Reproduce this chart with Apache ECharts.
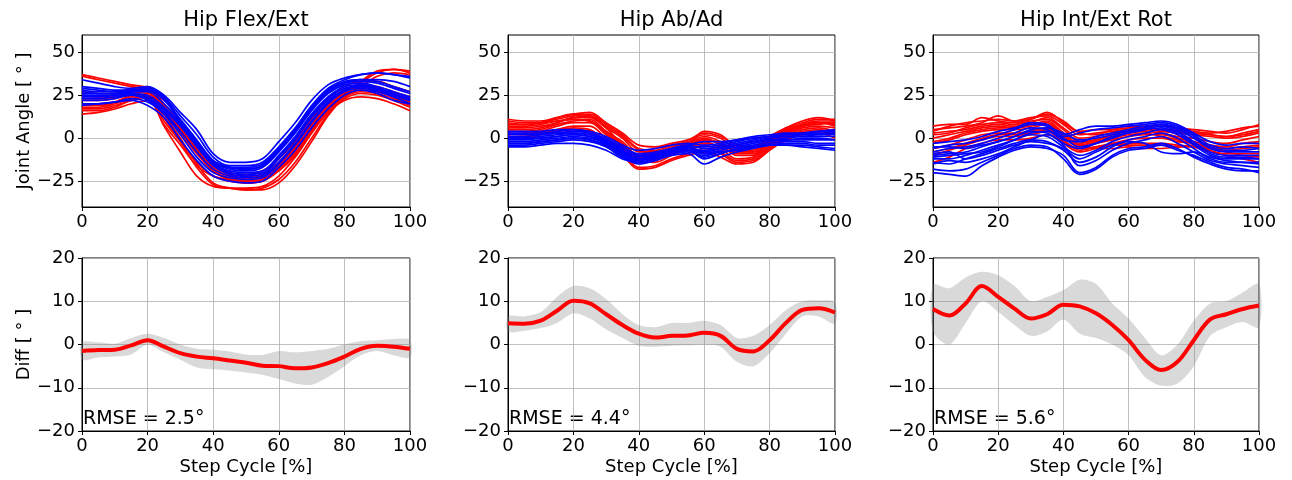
<!DOCTYPE html>
<html>
<head>
<meta charset="utf-8">
<script src="https://cdn.jsdelivr.net/npm/echarts@6/dist/echarts.min.js"></script>
<style>
  html, body { margin: 0; padding: 0; background: #fff; }
  #chart { width: 1292px; height: 480px; }
</style>
</head>
<body>
<div id="chart"></div>
<script>
// step cycle samples (%)
var xSteps = [0, 5, 10, 15, 20, 25, 30, 35, 40, 45, 50, 55, 60, 65, 70, 75, 80, 85, 90, 95, 100];

// Hip Flex/Ext trials
var flexRed = [
    [37, 35, 33, 31, 29, 14, 0, -15, -26, -29, -30, -30, -26, -16, -2, 13, 24, 32, 38, 40, 38],
    [36, 34, 32, 30, 28, 12, -2, -17, -27, -29, -30, -29, -24, -14, 0, 14, 25, 33, 39, 40, 39],
    [14, 15, 17, 20, 22, 8, -4, -16, -22, -24, -25, -24, -19, -10, 3, 15, 22, 24, 23, 20, 16],
    [17, 17, 19, 22, 24, 15, 3, -9, -19, -23, -24, -23, -17, -8, 5, 17, 24, 27, 26, 23, 19],
    [20, 20, 21, 24, 26, 17, 5, -7, -18, -22, -23, -22, -15, -6, 7, 19, 26, 29, 28, 25, 21],
    [23, 23, 24, 27, 28, 19, 7, -5, -16, -21, -22, -21, -14, -4, 9, 21, 28, 31, 30, 27, 24],
    [19, 19, 21, 25, 27, 16, 4, -8, -19, -24, -26, -25, -18, -8, 5, 17, 25, 30, 36, 38, 37],
    [27, 26, 26, 29, 30, 20, 8, -4, -15, -20, -21, -19, -12, -2, 11, 23, 30, 33, 33, 30, 27],
    [22, 22, 23, 26, 27, 17, 4, -8, -19, -24, -25, -24, -17, -7, 6, 18, 26, 29, 28, 25, 22],
    [16, 16, 18, 22, 24, 7, -8, -22, -28, -29, -29, -28, -22, -11, 3, 16, 23, 26, 25, 22, 18],
    [25, 24, 25, 28, 29, 18, 6, -6, -17, -22, -23, -22, -16, -5, 8, 20, 27, 30, 29, 26, 23],
    [18, 18, 20, 23, 25, 10, -2, -14, -22, -25, -26, -25, -19, -9, 4, 16, 24, 28, 27, 24, 20]
];
var flexBlue = [
    [34, 32, 30, 29, 30, 25, 15, 5, -9, -14, -14, -12, -2, 9, 22, 31, 35, 37, 38, 37, 36],
    [30, 29, 28, 28, 29, 24, 13, 2, -11, -16, -16, -14, -5, 6, 19, 29, 34, 37, 38, 37, 35],
    [28, 27, 27, 28, 28, 22, 11, -1, -13, -17, -18, -16, -7, 4, 17, 27, 32, 33, 32, 29, 26],
    [26, 26, 26, 27, 27, 20, 10, -2, -14, -18, -19, -17, -8, 3, 16, 26, 31, 32, 30, 27, 24],
    [24, 24, 25, 26, 25, 18, 9, -3, -15, -19, -20, -19, -10, 1, 14, 24, 30, 31, 29, 26, 23],
    [22, 22, 23, 25, 23, 16, 7, -5, -16, -21, -22, -21, -12, -1, 12, 22, 28, 30, 28, 25, 22],
    [20, 20, 21, 23, 21, 14, 2, -11, -20, -23, -24, -23, -15, -4, 9, 20, 27, 29, 27, 24, 20],
    [19, 20, 21, 22, 19, 12, -1, -13, -22, -25, -26, -25, -17, -7, 6, 17, 25, 28, 26, 22, 20],
    [29, 28, 27, 27, 28, 23, 9, -3, -14, -17, -17, -15, -6, 5, 18, 28, 33, 34, 33, 30, 27],
    [25, 25, 25, 26, 24, 17, 8, -4, -15, -20, -21, -20, -11, 0, 13, 23, 29, 30, 28, 25, 22],
    [23, 23, 24, 25, 22, 15, 4, -8, -18, -22, -23, -22, -14, -3, 10, 21, 28, 31, 29, 26, 23],
    [27, 26, 26, 27, 29, 24, 10, -2, -13, -17, -18, -16, -7, 4, 17, 27, 32, 34, 34, 33, 30]
];

// Hip Ab/Ad trials
var abadRed = [
    [11, 10, 10, 12, 14, 15, 9, 3, -4, -5, -3, -1, 3, 1, -4, -5, 1, 6, 9, 11, 11],
    [9, 8, 9, 11, 13, 14, 8, 2, -6, -7, -4, -2, 2, 0, -6, -6, 0, 5, 8, 10, 10],
    [6, 6, 7, 9, 12, 12, 6, 0, -8, -8, -5, -3, 1, -2, -8, -8, -1, 4, 7, 9, 8],
    [4, 4, 5, 8, 10, 11, 4, -2, -10, -10, -6, -4, 0, -4, -10, -10, -2, 3, 6, 7, 6],
    [2, 3, 4, 7, 9, 9, 2, -4, -12, -11, -7, -5, -2, -6, -12, -11, -4, 2, 5, 6, 4],
    [1, 1, 3, 5, 7, 7, 0, -6, -14, -13, -9, -7, -4, -8, -13, -12, -5, 1, 4, 5, 3],
    [7, 7, 8, 10, 11, 10, 3, -3, -11, -12, -9, -6, -3, -5, -9, -9, -3, 3, 7, 9, 9],
    [3, 2, 3, 5, 6, 5, -2, -8, -17, -16, -12, -9, -6, -9, -14, -13, -6, 0, 3, 4, 2],
    [5, 5, 6, 9, 12, 13, 7, 1, -7, -9, -7, -4, -1, -3, -7, -7, 0, 5, 8, 9, 7],
    [0, 0, 2, 4, 5, 4, -4, -10, -18, -17, -13, -10, -8, -11, -15, -14, -7, -1, 2, 3, 0],
    [8, 8, 9, 12, 14, 13, 6, -4, -12, -12, -8, -4, 4, 2, -5, -6, 0, 6, 10, 12, 10],
    [10, 9, 9, 10, 11, 10, 4, -5, -13, -14, -10, -6, -1, -3, -8, -8, -2, 4, 7, 8, 9]
];
var abadBlue = [
    [3, 3, 3, 4, 5, 4, 1, -4, -7, -6, -4, -3, -4, -3, -1, 1, 2, 3, 3, 4, 5],
    [1, 1, 2, 3, 4, 3, 0, -5, -9, -8, -6, -4, -6, -5, -3, -1, 1, 2, 2, 3, 3],
    [0, 0, 1, 2, 3, 2, -1, -7, -11, -10, -7, -6, -9, -7, -5, -3, -1, 0, 1, 1, 1],
    [-2, -2, -1, 0, 1, 0, -3, -9, -13, -11, -8, -7, -12, -9, -6, -4, -2, -1, -1, -1, -1],
    [-4, -4, -3, -2, -1, -2, -5, -11, -15, -13, -10, -9, -15, -11, -8, -6, -4, -3, -3, -4, -4],
    [-5, -5, -4, -3, -3, -4, -7, -12, -14, -12, -9, -8, -10, -8, -7, -5, -4, -4, -4, -5, -6],
    [2, 2, 2, 3, 3, 2, -2, -8, -12, -11, -8, -6, -7, -6, -4, -2, 0, 1, 1, 2, 2],
    [-1, -1, 0, 1, 2, 1, -2, -8, -10, -9, -7, -5, -8, -6, -4, -2, -1, -1, 0, 0, -1],
    [-3, -3, -2, -1, 0, -1, -4, -10, -14, -12, -9, -7, -11, -9, -6, -5, -3, -2, -2, -3, -3],
    [0, 0, 0, 1, 2, 1, -3, -9, -12, -10, -7, -5, -5, -4, -2, 0, 1, 1, 2, 2, 3],
    [4, 4, 4, 5, 5, 3, -1, -6, -10, -9, -6, -4, -2, -2, -1, 0, 1, 2, 3, 4, 4],
    [-3, -3, -2, -1, 0, -1, -5, -11, -13, -10, -8, -7, -9, -8, -7, -5, -4, -4, -5, -6, -7]
];

// Hip Int/Ext Rot trials
var rotRed = [
    [7, 8, 8, 12, 10, 9, 11, 14, 10, 4, 5, 5, 6, 7, 7, 6, 5, 4, 3, 5, 8],
    [5, 6, 7, 9, 13, 10, 12, 13, 8, 2, 3, 4, 5, 6, 5, 4, 3, 2, 1, 3, 5],
    [3, 4, 5, 7, 8, 7, 9, 12, 6, 0, 1, 3, 4, 5, 4, 3, 2, 1, 0, 1, 3],
    [0, 2, 4, 6, 7, 6, 8, 10, 3, -3, -1, 1, 3, 4, 3, 1, 0, -2, -3, -1, 1],
    [-3, -1, 2, 4, 5, 5, 6, 8, 1, -5, -3, -1, 1, 2, 2, 0, -2, -4, -5, -3, -2],
    [-6, -4, -1, 2, 3, 3, 4, 6, -1, -7, -5, -3, -1, 0, 0, -2, -3, -6, -7, -6, -5],
    [-10, -7, -4, -1, 1, 1, 2, 4, -3, -8, -6, -4, -3, -3, -3, -4, -5, -8, -9, -9, -9],
    [-14, -11, -6, -3, -1, -1, 0, 2, -2, -6, -5, -4, -4, -4, -4, -5, -5, -7, -10, -12, -14],
    [2, 3, 6, 8, 9, 8, 10, 11, 5, -2, -1, 2, 4, 5, 5, 4, 3, 2, 1, 2, 4],
    [-2, 0, 3, 5, 6, 6, 7, 9, 2, -4, -2, 0, 2, 3, 1, -1, -3, -5, -6, -5, -4],
    [4, 7, 9, 10, 11, 10, 11, 15, 9, 3, 2, 5, 7, 6, 5, 5, 4, 3, 4, 6, 7],
    [-8, -6, -3, 0, 2, 2, 3, 5, 0, -4, -6, -6, -5, -6, -6, -5, -4, -6, -8, -10, -11]
];
var rotBlue = [
    [-3, -2, -1, 1, 4, 6, 9, 8, 2, 5, 7, 7, 8, 9, 10, 8, 3, -2, -4, -3, -3],
    [-6, -4, -3, -1, 2, 5, 8, 7, 1, 3, 5, 6, 7, 8, 9, 7, 2, -4, -6, -5, -6],
    [-8, -6, -5, -3, 0, 3, 6, 5, -1, -2, 1, 3, 5, 7, 8, 5, 0, -6, -8, -8, -8],
    [-10, -9, -8, -5, -2, 1, 4, 3, -3, -6, -3, 1, 3, 5, 7, 4, -2, -8, -10, -10, -10],
    [-12, -12, -10, -7, -4, -1, 2, 1, -5, -10, -7, -2, 1, 3, 5, 2, -4, -10, -12, -12, -12],
    [-14, -15, -12, -9, -6, -3, -1, -2, -7, -14, -11, -5, -1, 1, 3, 0, -6, -12, -14, -14, -14],
    [-20, -21, -22, -16, -11, -7, -5, -6, -10, -20, -17, -10, -6, -5, -3, -6, -11, -15, -18, -19, -19],
    [-18, -19, -18, -14, -10, -6, -4, -5, -12, -21, -18, -11, -7, -6, -4, -7, -10, -14, -17, -18, -20],
    [-9, -8, -12, -10, -7, -4, -2, -3, -6, -12, -8, -4, -2, -3, -8, -9, -8, -11, -13, -14, -15],
    [-5, -5, -6, -4, -2, 1, 5, 6, 3, -1, 0, 2, 4, 6, 8, 6, 1, -5, -7, -7, -6],
    [-15, -13, -14, -12, -9, -5, -1, 2, -4, -16, -13, -7, -3, -1, 1, -3, -8, -13, -15, -16, -17],
    [-11, -10, -9, -8, -5, -1, 3, 4, 0, -5, -3, 0, 3, 5, 6, 3, -3, -9, -11, -11, -12]
];

// differences: mean and band (upper / lower)
var flexMean = [-1.5, -1.3, -1.2, -0.2, 1.0, -0.5, -2.0, -2.8, -3.2, -3.7, -4.2, -4.9, -5.0, -5.5, -5.3, -4.3, -2.8, -1.0, -0.3, -0.5, -1.0];
var flexUpper = [0.5, 0.5, 0.2, 1.5, 2.5, 1.5, 0, -1, -1.2, -1.6, -2.3, -2.4, -1.5, -1.8, -1.5, -1, 0, 0.8, 1, 1.3, 1];
var flexLower = [-3.5, -3, -2.8, -2.3, 0, -1.8, -3.5, -5.3, -5.7, -6, -6.5, -7, -8, -9, -9.3, -7.5, -5, -2.5, -1.5, -2.5, -3];

var abadMean = [4.9, 4.8, 5.5, 7.8, 10.1, 9.5, 7, 4.5, 2.5, 1.6, 2, 2.1, 2.7, 2, -1.0, -1.6, 1, 5, 8, 8.4, 7.4];
var abadUpper = [6.5, 6.5, 7.5, 11, 13.5, 13, 10.5, 7, 4.5, 4, 5, 5, 5.5, 4.5, 1.5, 2, 4.5, 8, 10, 10.2, 9.7];
var abadLower = [3, 3.2, 3.8, 5, 7.2, 6, 3.5, 1.5, -0.3, -0.5, -0.3, -0.2, 0, -0.5, -4, -5, -2, 2.5, 6.5, 6.5, 4.8];

var rotMean = [8.2, 6.7, 9.5, 13.5, 11, 8.3, 6, 7, 9.2, 8.8, 7.2, 4.5, 1, -3.5, -5.9, -4, 1, 5.8, 7, 8.2, 9];
var rotUpper = [13.8, 13, 15.5, 16.8, 16, 13.5, 10, 11, 12.6, 15, 14, 9.5, 6, 1.5, -2.5, 0, 5.5, 9.5, 10, 12, 14];
var rotLower = [3, 0, 5, 10, 7.5, 4.5, 2, 3, 5.8, 2.5, 1.5, 0, -2.5, -7.5, -9.5, -9, -5, 2, 4, 5.2, 4];

var titles = ['Hip Flex/Ext', 'Hip Ab/Ad', 'Hip Int/Ext Rot'];
var rmseLabels = ['RMSE = 2.5\u00b0', 'RMSE = 4.4\u00b0', 'RMSE = 5.6\u00b0'];
var angleTicks = [-25, 0, 25, 50];

var FONT = 'DejaVu Sans';
var colLeft = [82, 508, 933];
var colWidth = [328, 327, 326];

var chart = echarts.init(document.getElementById('chart'), null, { renderer: 'canvas' });

function pairs(vals) {
    return vals.map(function (v, i) { return [xSteps[i], v]; });
}

function minus(v) {
    return String(v).replace('-', '\u2212');
}

var grids = [], xAxes = [], yAxes = [], series = [], graphics = [];

for (var c = 0; c < 3; c++) {
    grids.push({ left: colLeft[c], width: colWidth[c], top: 35, height: 172, show: true, borderColor: '#000', borderWidth: 1 });
}
for (var c = 0; c < 3; c++) {
    grids.push({ left: colLeft[c], width: colWidth[c], top: 258, height: 173, show: true, borderColor: '#000', borderWidth: 1 });
}

for (var g = 0; g < 6; g++) {
    var bottomRow = g >= 3;
    xAxes.push({
        type: 'value', gridIndex: g, min: 0, max: 100, interval: 20,
        name: bottomRow ? 'Step Cycle [%]' : '',
        nameLocation: 'middle', nameGap: 27,
        nameTextStyle: { fontFamily: FONT, fontSize: 18, color: '#000' },
        axisLine: { show: true, onZero: false, lineStyle: { color: '#000', width: 1 } },
        axisTick: { show: true, length: 4, lineStyle: { color: '#000' } },
        axisLabel: { fontFamily: FONT, fontSize: 18, color: '#000', margin: 6, hideOverlap: false },
        splitLine: { show: true, lineStyle: { color: '#b0b0b0', width: 0.8 } }
    });
    var yName = '';
    if (g === 0) yName = 'Joint Angle [ \u00b0 ]';
    if (g === 3) yName = 'Diff [ \u00b0 ]';
    var yAx = {
        type: 'value', gridIndex: g,
        name: yName, nameLocation: 'middle', nameGap: 44,
        nameTextStyle: { fontFamily: FONT, fontSize: 18, color: '#000' },
        axisLine: { show: true, onZero: false, lineStyle: { color: '#000', width: 1 } },
        axisLabel: { fontFamily: FONT, fontSize: 18, color: '#000', margin: 7, formatter: minus },
        splitLine: { show: true, lineStyle: { color: '#b0b0b0', width: 0.8 } }
    };
    if (bottomRow) {
        yAx.min = -20; yAx.max = 20; yAx.interval = 10;
        yAx.axisTick = { show: true, length: 4, lineStyle: { color: '#000' } };
    } else {
        yAx.min = -40; yAx.max = 60;
        yAx.axisTick = { show: true, length: 4, lineStyle: { color: '#000' }, customValues: angleTicks };
        yAx.axisLabel.customValues = angleTicks;
    }
    yAxes.push(yAx);
}

function addTrials(idx, trials, color) {
    trials.forEach(function (t) {
        series.push({
            type: 'line', xAxisIndex: idx, yAxisIndex: idx,
            data: pairs(t), symbol: 'none', smooth: 0.35, silent: true,
            lineStyle: { color: color, width: 1.7 },
            emphasis: { disabled: true }
        });
    });
}

addTrials(0, flexRed, '#ff0000');
addTrials(0, flexBlue, '#0000ff');
addTrials(1, abadRed, '#ff0000');
addTrials(1, abadBlue, '#0000ff');
addTrials(2, rotRed, '#ff0000');
addTrials(2, rotBlue, '#0000ff');

function addDiff(idx, mean, upper, lower) {
    // shaded band: one polygon through upper edge and back along lower edge
    series.push({
        type: 'custom', xAxisIndex: idx, yAxisIndex: idx, silent: true,
        data: xSteps.map(function (x, i) { return [x, lower[i], upper[i]]; }),
        encode: { x: 0, y: [1, 2] },
        renderItem: function (params, api) {
            if (params.dataIndex !== 0) return null;
            var pts = [];
            for (var i = 0; i < xSteps.length; i++) pts.push(api.coord([xSteps[i], upper[i]]));
            for (var j = xSteps.length - 1; j >= 0; j--) pts.push(api.coord([xSteps[j], lower[j]]));
            return {
                type: 'polygon',
                shape: { points: pts, smooth: 0.3 },
                style: { fill: 'rgba(128,128,128,0.3)' }
            };
        }
    });
    series.push({
        type: 'line', xAxisIndex: idx, yAxisIndex: idx,
        data: pairs(mean), symbol: 'none', smooth: 0.35, silent: true,
        lineStyle: { color: '#ff0000', width: 4 }
    });
}

addDiff(3, flexMean, flexUpper, flexLower);
addDiff(4, abadMean, abadUpper, abadLower);
addDiff(5, rotMean, rotUpper, rotLower);

for (var c = 0; c < 3; c++) {
    graphics.push({
        type: 'text', x: colLeft[c] + colWidth[c] / 2, y: 21,
        style: { text: titles[c], font: '21px "DejaVu Sans"', fill: '#000', textAlign: 'center', textVerticalAlign: 'middle' }
    });
    graphics.push({
        type: 'text', x: colLeft[c] + 1, y: 419,
        style: { text: rmseLabels[c], font: '19px "DejaVu Sans"', fill: '#000', textAlign: 'left', textVerticalAlign: 'middle' }
    });
}

chart.setOption({
    animation: false,
    backgroundColor: '#fff',
    grid: grids,
    xAxis: xAxes,
    yAxis: yAxes,
    series: series,
    graphic: graphics
});
</script>
</body>
</html>
